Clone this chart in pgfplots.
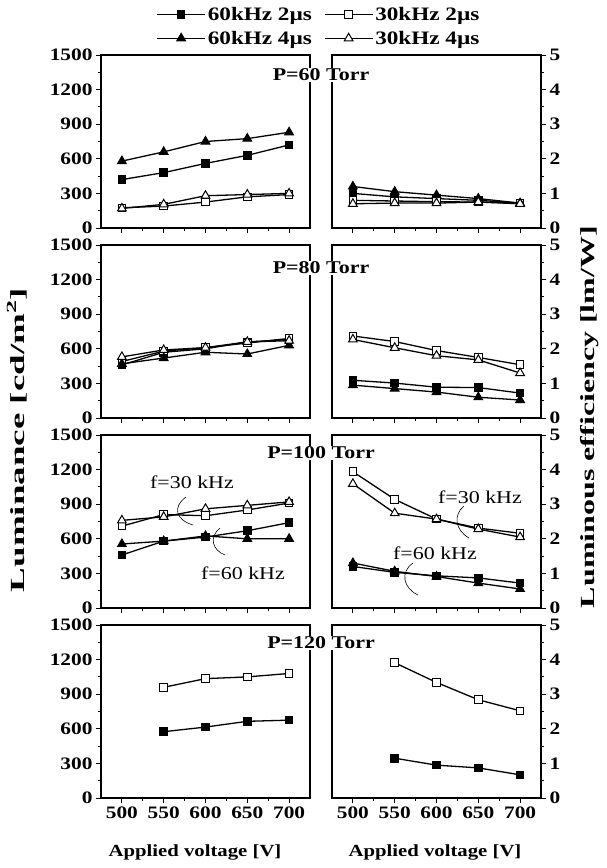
\documentclass[border=0pt]{standalone}
\usepackage{fontspec}
\setmainfont[FakeStretch=1.22]{Liberation Serif}
\newfontfamily\ylabfont[FakeStretch=1.85]{Liberation Serif}
\newfontfamily\ylabfontb[FakeStretch=1.6]{Liberation Serif}
\usepackage{pgfplots}
\pgfplotsset{compat=1.18}

\pgfplotsset{
  panel/.style={
    scale only axis, width=209pt, height=173pt,
    xmin=475, xmax=725, xtick={500,550,...,700}, minor x tick num=1,
    tick align=outside, xtick pos=bottom, xticklabel=\empty,
    major tick length=5pt, minor tick length=3pt,
    every tick/.style={black, line width=1pt},
    axis line style={line width=1.3pt},
    ticklabel style={font=\fontsize{17.5}{17.5}\selectfont\bfseries},
    /pgf/number format/assume math mode=true,
    /pgf/number format/1000 sep={},
    clip=false,
  },
  lpanel/.style={panel, ymin=0, ymax=1500, ytick={0,300,...,1500},
    minor y tick num=1, ytick pos=left},
  rpanel/.style={panel, ymin=0, ymax=5, ytick={0,1,...,5},
    minor y tick num=1, ytick pos=right, yticklabel pos=right},
  bottomrow/.style={xticklabel={\pgfmathprintnumber{\tick}}},
  fsq/.style={black, line width=1.3pt, mark=square*, mark size=3.8pt,
    mark options={solid, fill=black, line width=1pt}},
  osq/.style={black, line width=1.3pt, mark=square*, mark size=3.8pt,
    mark options={solid, fill=white, line width=1pt}},
  ftri/.style={black, line width=1.3pt, mark=triangle*, mark size=5pt,
    mark options={solid, fill=black, line width=1pt}},
  otri/.style={black, line width=1.3pt, mark=triangle*, mark size=5pt,
    mark options={solid, fill=white, line width=1pt}},
}

\begin{document}
\begin{tikzpicture}

% ---------- P = 60 Torr ----------
\begin{axis}[lpanel, at={(101pt,-55pt)}, anchor=north west,
  legend columns=2,
  legend style={at={(1.043,1.165)}, anchor=center, draw=none, fill=none,
    font=\fontsize{19}{19}\selectfont\bfseries,
    /tikz/every even column/.append style={column sep=10pt},
    row sep=5pt},
  legend image code/.code={\draw[mark repeat=2, mark phase=2]
    plot coordinates {(0pt,0pt) (24pt,0pt) (48pt,0pt)};},
  ]
\addplot[fsq] coordinates {(500,420) (550,480) (600,560) (650,630) (700,720)};
\addlegendentry{60kHz 2µs}
\addplot[osq] coordinates {(500,175) (550,190) (600,225) (650,270) (700,290)};
\addlegendentry{30kHz 2µs}
\addplot[ftri] coordinates {(500,580) (550,660) (600,750) (650,775) (700,830)};
\addlegendentry{60kHz 4µs}
\addplot[otri] coordinates {(500,170) (550,205) (600,280) (650,290) (700,300)};
\addlegendentry{30kHz 4µs}
\end{axis}

\begin{axis}[rpanel, at={(332pt,-55pt)}, anchor=north west]
\addplot[fsq] coordinates {(500,1.0) (550,0.9) (600,0.85) (650,0.8) (700,0.72)};
\addplot[osq] coordinates {(500,0.8) (550,0.78) (600,0.76) (650,0.75) (700,0.72)};
\addplot[ftri] coordinates {(500,1.2) (550,1.05) (600,0.95) (650,0.85) (700,0.72)};
\addplot[otri] coordinates {(500,0.7) (550,0.72) (600,0.72) (650,0.75) (700,0.7)};
\end{axis}

% ---------- P = 80 Torr ----------
\begin{axis}[lpanel, at={(101pt,-245pt)}, anchor=north west]
\addplot[fsq] coordinates {(500,460) (550,570) (600,600) (650,660) (700,680)};
\addplot[osq] coordinates {(500,490) (550,580) (600,610) (650,650) (700,690)};
\addplot[ftri] coordinates {(500,470) (550,520) (600,570) (650,555) (700,630)};
\addplot[otri] coordinates {(500,530) (550,590) (600,610) (650,660) (700,670)};
\end{axis}

\begin{axis}[rpanel, at={(332pt,-245pt)}, anchor=north west]
\addplot[fsq] coordinates {(500,1.09) (550,1.01) (600,0.89) (650,0.88) (700,0.72)};
\addplot[osq] coordinates {(500,2.37) (550,2.21) (600,1.95) (650,1.75) (700,1.54)};
\addplot[ftri] coordinates {(500,0.95) (550,0.85) (600,0.75) (650,0.6) (700,0.52)};
\addplot[otri] coordinates {(500,2.27) (550,2.03) (600,1.8) (650,1.68) (700,1.3)};
\end{axis}

% ---------- P = 100 Torr ----------
\begin{axis}[lpanel, at={(101pt,-435pt)}, anchor=north west]
\addplot[fsq] coordinates {(500,460) (550,580) (600,615) (650,670) (700,740)};
\addplot[osq] coordinates {(500,710) (550,810) (600,800) (650,850) (700,910)};
\addplot[ftri] coordinates {(500,555) (550,580) (600,625) (650,600) (700,600)};
\addplot[otri] coordinates {(500,760) (550,790) (600,860) (650,890) (700,920)};
\end{axis}

\begin{axis}[rpanel, at={(332pt,-435pt)}, anchor=north west]
\addplot[fsq] coordinates {(500,1.2) (550,1.03) (600,0.93) (650,0.87) (700,0.72)};
\addplot[osq] coordinates {(500,3.94) (550,3.14) (600,2.57) (650,2.31) (700,2.16)};
\addplot[ftri] coordinates {(500,1.3) (550,1.06) (600,0.91) (650,0.72) (700,0.55)};
\addplot[otri] coordinates {(500,3.59) (550,2.74) (600,2.57) (650,2.28) (700,2.05)};
\end{axis}

% ---------- P = 120 Torr ----------
\begin{axis}[lpanel, bottomrow, at={(101pt,-625pt)}, anchor=north west]
\addplot[fsq] coordinates {(550,575) (600,615) (650,665) (700,675)};
\addplot[osq] coordinates {(550,960) (600,1035) (650,1050) (700,1080)};
\end{axis}

\begin{axis}[rpanel, bottomrow, at={(332pt,-625pt)}, anchor=north west]
\addplot[fsq] coordinates {(550,1.15) (600,0.95) (650,0.87) (700,0.67)};
\addplot[osq] coordinates {(550,3.91) (600,3.34) (650,2.84) (700,2.52)};
\end{axis}

% panel titles over the gap
\begin{scope}[every node/.style={fill=white, inner sep=1pt,
    font=\fontsize{18}{18}\selectfont\bfseries}]
\node at (321pt,-75pt) {P=60 Torr};
\node at (321pt,-268pt) {P=80 Torr};
\node at (321pt,-453pt) {P=100 Torr};
\node at (321pt,-643pt) {P=120 Torr};
\end{scope}

% annotations in the 100 Torr panels
\begin{scope}[every node/.style={font=\fontsize{18}{18}\selectfont}]
\node at (192pt,-482pt) {f=30 kHz};
\node at (243pt,-573pt) {f=60 kHz};
\node at (480pt,-497pt) {f=30 kHz};
\node at (435pt,-553pt) {f=60 kHz};
\end{scope}
\draw[line width=0.6pt] (186pt,-497pt) .. controls (172pt,-507pt) and (176pt,-520pt) .. (193pt,-525pt);
\draw[line width=0.6pt] (220pt,-528pt) .. controls (209pt,-537pt) and (212pt,-550pt) .. (225pt,-555pt);
\draw[line width=0.6pt] (464pt,-506pt) .. controls (453pt,-515pt) and (455pt,-530pt) .. (469pt,-538pt);
\draw[line width=0.6pt] (413pt,-563pt) .. controls (400pt,-572pt) and (403pt,-588pt) .. (418pt,-595pt);

% axis titles
\node[rotate=90, font=\fontsize{20}{20}\ylabfont\bfseries] at (17pt,-440pt) {Luminance [cd/m\textsuperscript{2}]};
\node[rotate=90, font=\fontsize{20}{20}\ylabfontb\bfseries] at (590pt,-417pt) {Luminous efficiency [lm/W]};
\node[font=\fontsize{17}{17}\selectfont\bfseries] at (195pt,-852pt) {Applied voltage [V]};
\node[font=\fontsize{17}{17}\selectfont\bfseries] at (435pt,-852pt) {Applied voltage [V]};

\pgfresetboundingbox
\path[use as bounding box] (0pt,0pt) rectangle (606pt,-868pt);
\end{tikzpicture}
\end{document}
